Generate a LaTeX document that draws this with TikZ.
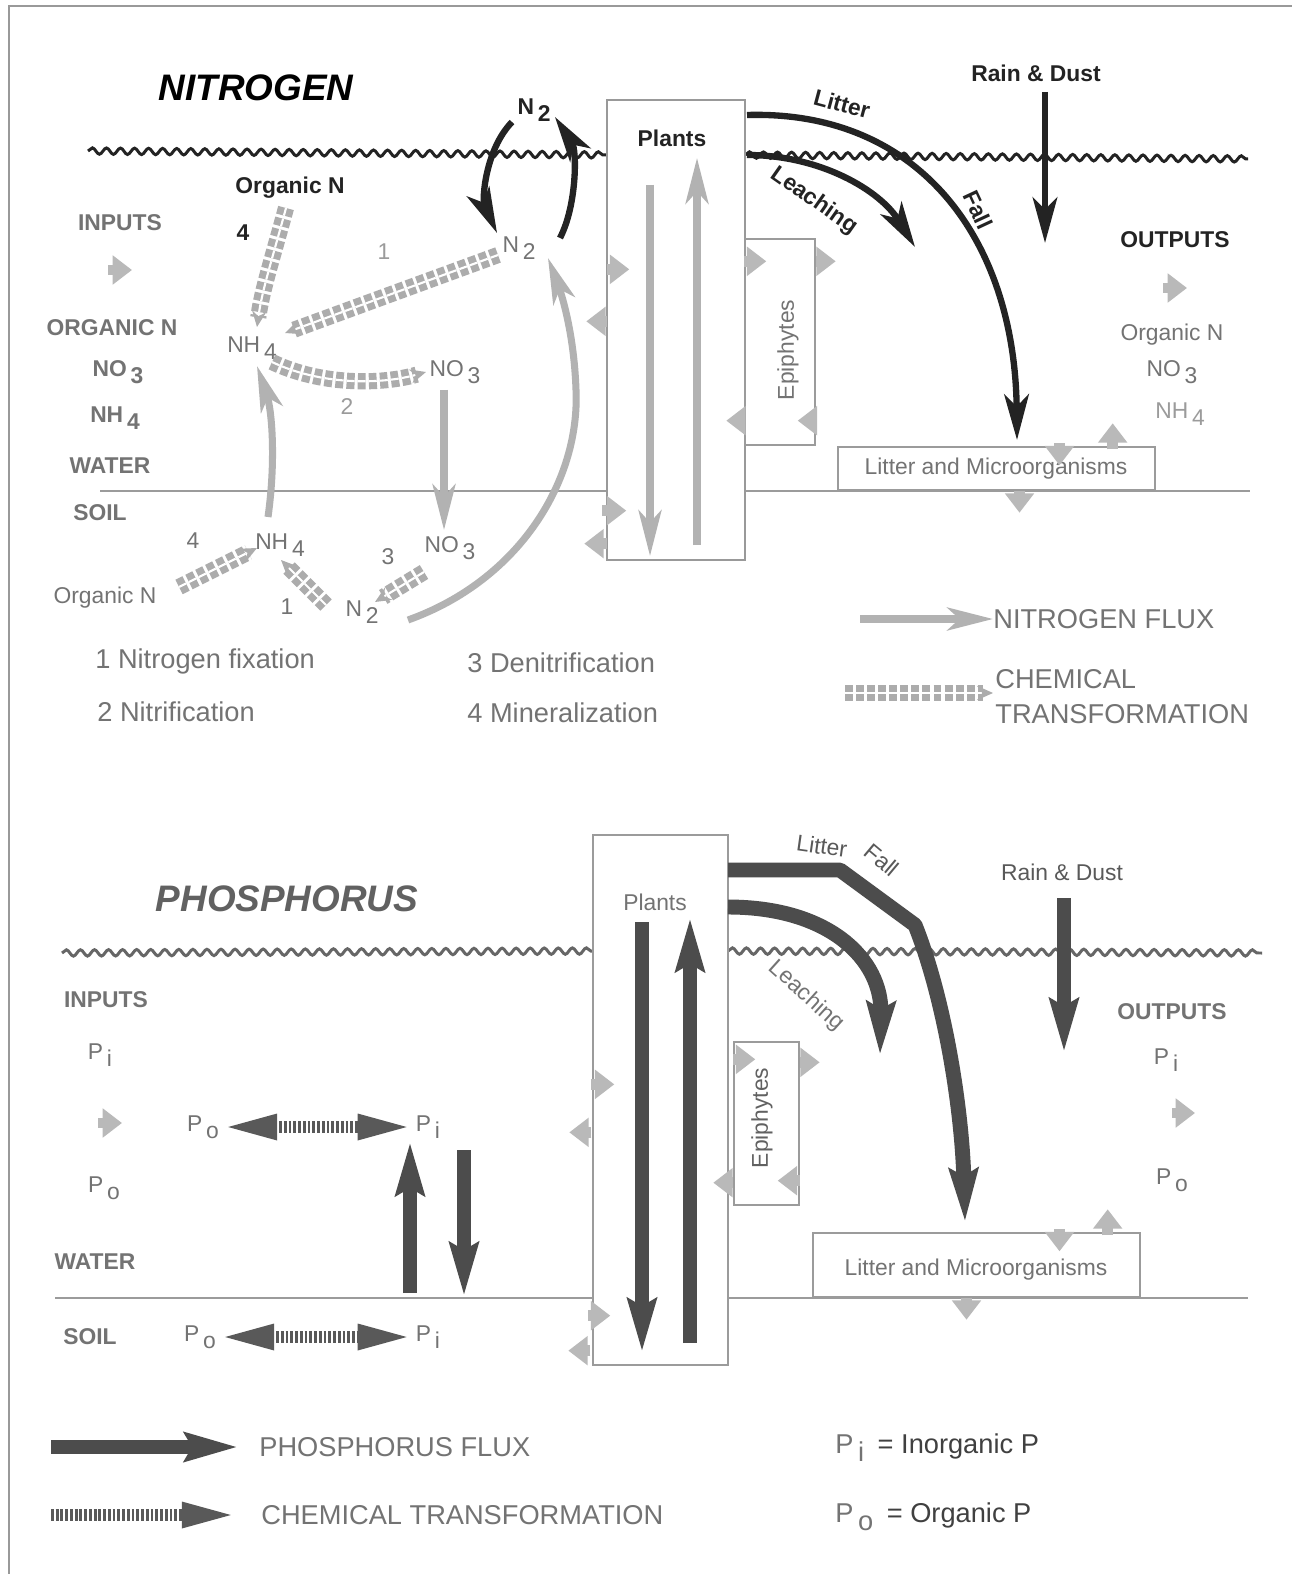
\documentclass[tikz,border=0pt]{standalone}
\usepackage{fontspec}
\setmainfont{Liberation Sans}
\usetikzlibrary{arrows.meta, decorations.pathmorphing, positioning, calc}
\definecolor{inkdark}{RGB}{35,35,35}
\definecolor{inkgray}{RGB}{115,115,115}
\definecolor{inklight}{RGB}{155,155,155}
\newcommand{\lowsub}[1]{\,\raisebox{-0.55ex}{#1}}

\begin{document}
\begin{tikzpicture}[
  x=0.02cm, y=-0.02cm,
  title/.style={font=\fontsize{21}{25}\selectfont\bfseries\itshape},
  lab/.style={font=\fontsize{13}{15}\selectfont, text=inkgray, inner sep=1pt},
  glab/.style={font=\fontsize{13}{15}\selectfont\bfseries, text=inkgray, inner sep=1pt},
  blab/.style={font=\fontsize{13}{15}\selectfont\bfseries, text=inkdark, inner sep=1pt},
  leg/.style={font=\fontsize{15.5}{18}\selectfont, text=inkgray, anchor=west, inner sep=0pt},
  box/.style={draw=inklight, line width=0.8pt, inner sep=0pt},
  wave/.style={decorate, decoration={snake, amplitude=1.8pt, segment length=8pt},
               line width=1.7pt, draw=inkdark},
  ground/.style={draw=inklight, line width=0.8pt},
  nflux/.style={line width=4pt, gray!60, -{Stealth[length=26pt,width=13pt,inset=7pt]}},
  dflux/.style={line width=3.6pt, inkdark, -{Stealth[length=26pt,width=14pt,inset=7pt]}},
  nchem/.style={line width=4pt, gray!65, double=white, double distance=1.2pt,
                dash pattern=on 4.5pt off 1.8pt, -{Stealth[length=9pt,width=8pt]}},
  pflux/.style={line width=8.5pt, black!70, -{Stealth[length=30pt,width=16pt,inset=4pt]}},
  pchem/.style={line width=6.5pt, black!65, dash pattern=on 1.6pt off 1.1pt,
                -{Triangle[length=32pt,width=13pt]}},
  pchemboth/.style={pchem, {Triangle[length=32pt,width=13pt]}-{Triangle[length=32pt,width=13pt]}},
  xarr/.style={line width=6pt, gray!55, -{Triangle[length=11pt,width=16pt]}},
]

\fill[white] (0,0) rectangle (1292,1574);
\useasboundingbox (0,0) rectangle (1292,1574);

% Frame
\draw[line width=1.2pt, gray!80] (9,1574) -- (9,6) -- (1292,6);

%%%%%%%%%%%%%%%%%%%%%%%%%%%%%%%% NITROGEN %%%%%%%%%%%%%%%%%%%%%%%%%%%%%%%%
\node[title] (ntitle) at (256,88) {NITROGEN};

% Surface and water/soil boundary
\draw[wave] (88,151) -- (607,155);
\draw[wave] (745,155) -- (1248,159);
\draw[ground] (100,491) -- (607,491);
\draw[ground] (745,491) -- (1250,491);

% Compartments
\node[box, draw=gray!80, minimum width=2.76cm, minimum height=9.2cm] (plantsN) at (676,330) {};
\node[blab] (plantsNlab) at (672,138) {Plants};
\node[box, minimum width=1.4cm, minimum height=4.12cm] (epiN) at (780,342) {};
\node[lab, rotate=90] (epiNlab) at (788,350) {Epiphytes};
\node[box, minimum width=6.34cm, minimum height=0.86cm] (litterN) at (996.5,468.5) {};
\node[lab] (litterNlab) at (996,469) {Litter and Microorganisms};

% Inputs / outputs
\node[glab] (inN) at (120,223) {INPUTS};
\node[glab] (orgInN) at (112,328) {ORGANIC N};
\node[glab] (no3InN) at (118,372) {NO\lowsub{3}};
\node[glab] (nh4InN) at (115,418) {NH\lowsub{4}};
\node[glab] (waterN) at (110,466) {WATER};
\node[glab] (soilN) at (100,513) {SOIL};
\node[blab] (outN) at (1175,240) {OUTPUTS};
\node[lab] (orgOutN) at (1172,335) {Organic N};
\node[lab] (no3OutN) at (1172,372) {NO\lowsub{3}};
\node[lab, text=inklight] (nh4OutN) at (1180,414) {NH\lowsub{4}};

% Pools
\node[blab] (n2air) at (534,110) {N\lowsub{2}};
\node[blab] (orgTopN) at (290,188) {Organic N};
\node[blab] (fourTop) at (243,233) {4};
\node[lab] (nh4w) at (252,348) {NH\lowsub{4}};
\node[lab] (n2w) at (519,248) {N\lowsub{2}};
\node[lab, text=inklight] (oneTop) at (384,252) {1};
\node[lab] (no3w) at (455,372) {NO\lowsub{3}};
\node[lab, text=inklight] (twoW) at (347,407) {2};
\node[lab] (nh4s) at (280,545) {NH\lowsub{4}};
\node[lab] (fourSoil) at (193,541) {4};
\node[lab] (orgSoil) at (105,598) {Organic N};
\node[lab] (oneSoil) at (287,607) {1};
\node[lab] (n2s) at (362,612) {N\lowsub{2}};
\node[lab] (threeSoil) at (388,557) {3};
\node[lab] (no3s) at (450,548) {NO\lowsub{3}};

% Flux labels
\node[blab] (rainN) at (1036,73) {Rain \& Dust};
\node[blab, rotate=-15] (litN) at (842,104) {Litter};
\node[blab, rotate=-65] (fallN) at (978,210) {Fall};
\node[blab, rotate=-35] (leaN) at (814,201) {Leaching};

% Flux end points
\coordinate (nLitA) at (747,115);   \coordinate (nLitB) at (1017,440);
\coordinate (nLeaA) at (747,155);   \coordinate (nLeaB) at (915,247);
\coordinate (nRainA) at (1045,92);  \coordinate (nRainB) at (1045,243);
\coordinate (nLoopLA) at (512,122); \coordinate (nLoopLB) at (497,233);
\coordinate (nLoopRA) at (560,238); \coordinate (nLoopRB) at (555,117);
\coordinate (nBigA) at (408,620);   \coordinate (nBigM) at (576,390);
\coordinate (nBigB) at (548,258);
\coordinate (nUpA) at (268,517);    \coordinate (nUpB) at (257,366);
\coordinate (nDnA) at (444,390);    \coordinate (nDnB) at (444,530);
\coordinate (pnDnA) at (650,185);   \coordinate (pnDnB) at (650,556);
\coordinate (pnUpA) at (697,545);   \coordinate (pnUpB) at (697,158);

% Fluxes
\draw[dflux] (nLitA) .. controls (920,110) and (1015,240) .. (nLitB);
\draw[dflux] (nLeaA) .. controls (820,155) and (880,190) .. (nLeaB);
\draw[dflux] (nRainA) -- (nRainB);
\draw[dflux] (nLoopLA) .. controls (485,150) and (482,200) .. (nLoopLB);
\draw[dflux] (nLoopRA) .. controls (577,205) and (577,150) .. (nLoopRB);
\draw[nflux] (nBigA) .. controls (520,580) and (580,480) .. (nBigM)
                     .. controls (574,330) and (560,290) .. (nBigB);
\draw[nflux] (nUpA) .. controls (276,460) and (272,410) .. (nUpB);
\draw[nflux] (nDnA) -- (nDnB);
\draw[nflux] (pnDnA) -- (pnDnB);
\draw[nflux] (pnUpA) -- (pnUpB);

% Chemical transformations
\coordinate (cOrgA) at (286,208);  \coordinate (cOrgB) at (257,327);
\coordinate (cFixA) at (498,255);  \coordinate (cFixB) at (285,333);
\coordinate (cNitA) at (272,362);  \coordinate (cNitB) at (426,372);
\coordinate (cOrgSA) at (179,587); \coordinate (cOrgSB) at (257,548);
\coordinate (cFixSA) at (326,605); \coordinate (cFixSB) at (281,560);
\coordinate (cDenA) at (424,572);  \coordinate (cDenB) at (375,602);
\draw[nchem] (cOrgA) .. controls (272,260) and (262,290) .. (cOrgB);
\draw[nchem] (cFixA) -- (cFixB);
\draw[nchem] (cNitA) .. controls (320,385) and (380,385) .. (cNitB);
\draw[nchem] (cOrgSA) -- (cOrgSB);
\draw[nchem] (cFixSA) -- (cFixSB);
\draw[nchem] (cDenA) -- (cDenB);

% Exchanges
\draw[xarr] ($(plantsN.north west)+(1,170)$) -- ++(22,0);
\draw[xarr] ($(plantsN.north west)+(1,222)$) -- ++(-21,0);
\draw[xarr] ($(plantsN.south west)+(-4,-50)$) -- ++(24,0);
\draw[xarr] ($(plantsN.south west)+(1,-17)$) -- ++(-23,0);
\draw[xarr] ($(epiN.north west)+(0,23)$) -- ++(22,0);
\draw[xarr] ($(epiN.north east)+(0,23)$) -- ++(20,0);
\draw[xarr] ($(epiN.south west)+(0,-25)$) -- ++(-18,0);
\draw[xarr] ($(epiN.south east)+(0,-25)$) -- ++(-18,0);
\draw[xarr] ($(litterN.north east)+(-43,3)$) -- ++(0,-26);
\draw[xarr] ($(litterN.north)+(63,-3)$) -- ++(0,22);
\draw[xarr] ($(litterN.south)+(23,0)$) -- ++(0,22);
\draw[xarr] ($(inN)+(-12,47)$) -- ++(24,0);
\draw[xarr] ($(outN)+(-12,48)$) -- ++(24,0);

% Legend
\node[leg] (fixLeg) at (95,661) {1 Nitrogen fixation};
\node[leg] (nitLeg) at (97,712) {2 Nitrification};
\node[leg] (denLeg) at (467,663) {3 Denitrification};
\node[leg] (minLeg) at (467,713) {4 Mineralization};
\node[leg] (nfluxLeg) at (993,619) {NITROGEN FLUX};
\node[leg] (nchemLegA) at (995,679) {CHEMICAL};
\node[leg] (nchemLegB) at (995,714) {TRANSFORMATION};
\coordinate (legNf) at (860,619);
\coordinate (legNc) at (845,693);
\draw[nflux] (legNf) -- (nfluxLeg.west);
\draw[nchem] (legNc) -- (legNc -| nfluxLeg.west);

%%%%%%%%%%%%%%%%%%%%%%%%%%%%%%% PHOSPHORUS %%%%%%%%%%%%%%%%%%%%%%%%%%%%%%%
\node[title, text=black!62] (ptitle) at (287,899) {PHOSPHORUS};

\draw[wave, draw=black!60] (62,953) -- (593,951);
\draw[wave, draw=black!60] (728,951) -- (1262,953);
\draw[ground] (55,1298) -- (593,1298);
\draw[ground] (728,1298) -- (1248,1298);

% Compartments
\node[box, minimum width=2.7cm, minimum height=10.6cm] (plantsP) at (660.5,1100) {};
\node[lab] (plantsPlab) at (655,902) {Plants};
\node[box, minimum width=1.3cm, minimum height=3.26cm] (epiP) at (766.5,1123.5) {};
\node[lab, text=black!62, rotate=90] (epiPlab) at (762,1118) {Epiphytes};
\node[box, minimum width=6.54cm, minimum height=1.28cm] (litterP) at (976.5,1265) {};
\node[lab] (litterPlab) at (976,1270) {Litter and Microorganisms};

% Inputs / outputs
\node[glab] (inP) at (106,1000) {INPUTS};
\node[lab] (piInP) at (100,1055) {P\lowsub{i}};
\node[lab] (poInP) at (104,1188) {P\lowsub{o}};
\node[glab] (waterP) at (95,1262) {WATER};
\node[glab] (soilP) at (90,1337) {SOIL};
\node[glab] (outP) at (1172,1012) {OUTPUTS};
\node[lab] (piOutP) at (1166,1060) {P\lowsub{i}};
\node[lab] (poOutP) at (1172,1180) {P\lowsub{o}};

% Pools
\node[lab] (poW) at (203,1127) {P\lowsub{o}};
\node[lab] (piW) at (428,1127) {P\lowsub{i}};
\node[lab] (poS) at (200,1337) {P\lowsub{o}};
\node[lab] (piS) at (428,1337) {P\lowsub{i}};

% Flux labels
\node[lab, text=black!65, rotate=-8] (litP) at (822,846) {Litter};
\node[lab, text=black!65, rotate=-40] (fallP) at (882,860) {Fall};
\node[lab, text=black!65] (rainP) at (1062,872) {Rain \& Dust};
\node[lab, rotate=-42] (leaP) at (806,996) {Leaching};

% Flux end points
\coordinate (pLitA) at (728,870);   \coordinate (pLitB) at (965,1222);
\coordinate (pLeaA) at (728,907);   \coordinate (pLeaB) at (880,1055);
\coordinate (pRainA) at (1064,898); \coordinate (pRainB) at (1064,1052);
\coordinate (ppDnA) at (642,922);   \coordinate (ppDnB) at (642,1352);
\coordinate (ppUpA) at (690,1343);  \coordinate (ppUpB) at (690,918);
\coordinate (pUpA) at (410,1293);   \coordinate (pUpB) at (410,1142);
\coordinate (pDnA) at (464,1150);   \coordinate (pDnB) at (464,1296);

% Fluxes
\draw[pflux, line join=round] (pLitA) -- (840,870) -- (915,925)
      .. controls (945,1000) and (962,1110) .. (pLitB);
\draw[pflux] (pLeaA) .. controls (830,907) and (882,960) .. (pLeaB);
\draw[pflux] (pRainA) -- (pRainB);
\draw[pflux] (ppDnA) -- (ppDnB);
\draw[pflux] (ppUpA) -- (ppUpB);
\draw[pflux] (pUpA) -- (pUpB);
\draw[pflux] (pDnA) -- (pDnB);

% Chemical transformations
\draw[pchemboth] (poW) -- (piW);
\draw[pchemboth] (poS) -- (piS);

% Exchanges
\draw[xarr] ($(plantsP.north west)+(-1,250)$) -- ++(23,0);
\draw[xarr] ($(plantsP.north west)+(-1,298)$) -- ++(-22,0);
\draw[xarr] ($(plantsP.south west)+(-4,-50)$) -- ++(22,0);
\draw[xarr] ($(plantsP.south west)+(-2,-15)$) -- ++(-22,0);
\draw[xarr] ($(epiP.north west)+(0,18)$) -- ++(22,0);
\draw[xarr] ($(epiP.north east)+(0,21)$) -- ++(20,0);
\draw[xarr] ($(epiP.south west)+(0,-23)$) -- ++(-20,0);
\draw[xarr] ($(epiP.south east)+(0,-25)$) -- ++(-22,0);
\draw[xarr] ($(litterP.north east)+(-33,3)$) -- ++(0,-26);
\draw[xarr] ($(litterP.north)+(83,-3)$) -- ++(0,22);
\draw[xarr] ($(litterP.south)+(-10,0)$) -- ++(0,22);
\draw[xarr] ($(inP)+(-8,123)$) -- ++(24,0);
\draw[xarr] ($(outP)+(0,101)$) -- ++(23,0);

% Legend
\node[leg] (pfluxLeg) at (259,1447) {PHOSPHORUS FLUX};
\node[leg] (pchemLeg) at (261,1515) {CHEMICAL TRANSFORMATION};
\node[leg, text=black!75] (piLeg) at (835,1448) {{\color{inkgray}P\lowsub{i}}\enspace = Inorganic P};
\node[leg, text=black!75] (poLeg) at (835,1517) {{\color{inkgray}P\lowsub{o}}\enspace = Organic P};
\coordinate (legPf) at (51,1447);
\coordinate (legPc) at (51,1515);
\draw[pflux] (legPf) -- ++(187,0);
\draw[pchem] (legPc) -- ++(187,0);

\end{tikzpicture}
\end{document}
